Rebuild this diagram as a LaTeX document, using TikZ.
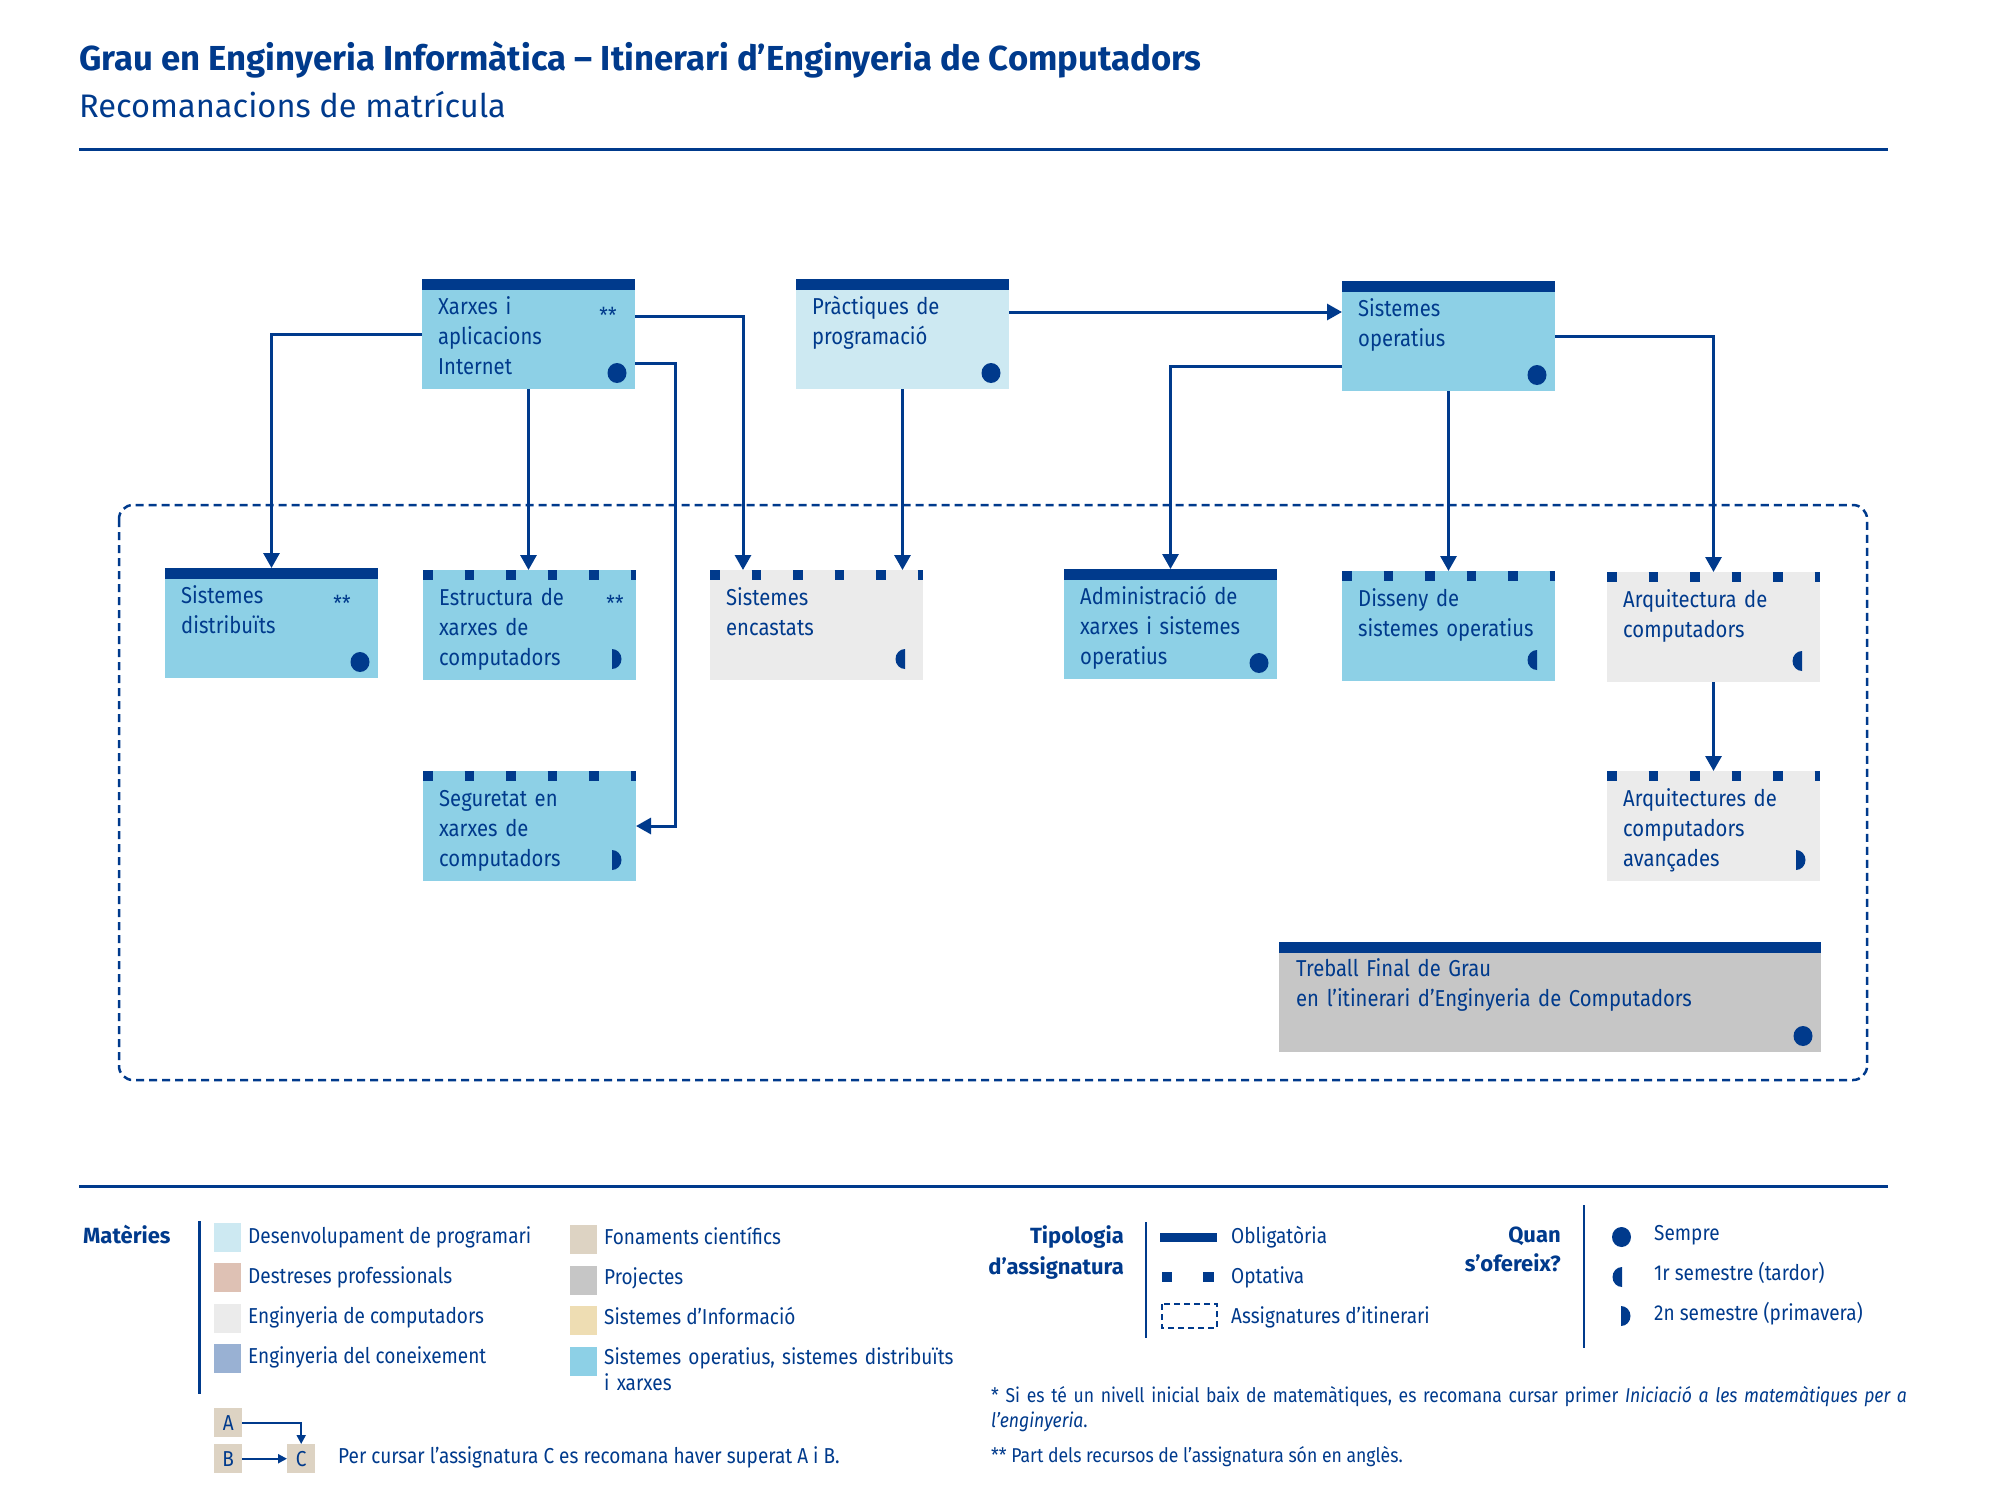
\documentclass[tikz,border=0pt]{standalone}
\usepackage{fontspec}
\setmainfont{Fira Sans}[FakeStretch=0.88]
\newfontfamily\headfont{Fira Sans}
\usetikzlibrary{arrows.meta,calc}
\definecolor{dkblue}{HTML}{003A8C}
\definecolor{sobl}{HTML}{8DD0E6}
\definecolor{dsbl}{HTML}{CDE9F2}
\definecolor{ecgr}{HTML}{EBEBEB}
\definecolor{prgr}{HTML}{C6C6C6}
\definecolor{dprs}{HTML}{DEC1B4}
\definecolor{econ}{HTML}{99B1D3}
\definecolor{fonc}{HTML}{DDD3C3}
\definecolor{sinf}{HTML}{EEDDB3}

% offering marks drawn in the lower right corner of a subject box
\newcommand\semprDot[1]{\fill[dkblue] ($(#1.south east)+(-18,-16)$) ellipse (9.5 and 10);}
\newcommand\tardorDot[1]{\fill[dkblue] ($(#1.south east)+(-18,-21)$) ++(0,10) arc[start angle=90,end angle=270,x radius=9.5,y radius=10] -- cycle;}
\newcommand\primavDot[1]{\fill[dkblue] ($(#1.south east)+(-24,-21)$) ++(0,-10) arc[start angle=-90,end angle=90,x radius=9.5,y radius=10] -- cycle;}

\begin{document}
\begin{tikzpicture}[x=1pt,y=-1pt,
  subj/.style={rectangle, draw=none, minimum width=213pt, minimum height=110pt,
    anchor=north west, inner sep=0pt, outer sep=0pt},
  oblig/.style={path picture={\fill[dkblue] (path picture bounding box.north west)
    rectangle ([yshift=-11pt]path picture bounding box.north east);}},
  optat/.style={path picture={\draw[dkblue, line width=10pt, dash pattern=on 9.5pt off 32pt]
    ([yshift=-5pt]path picture bounding box.north west) --
    ([yshift=-5pt]path picture bounding box.north east);}},
  subjtext/.style={anchor=base west, text width=195pt, align=left, inner sep=0pt,
    text=dkblue, font=\fontsize{23}{30}\selectfont},
  stars/.style={anchor=base, inner sep=0pt, text=dkblue, font=\fontsize{22}{24}\selectfont},
  conn/.style={draw=dkblue, line width=3pt, -{Triangle[width=16pt,length=15pt]}},
  smallconn/.style={draw=dkblue, line width=2pt, -{Triangle[width=9pt,length=9pt]}},
  legtext/.style={anchor=base west, inner sep=0pt, text=dkblue, font=\fontsize{21.6}{26}\selectfont},
  legbold/.style={inner sep=0pt, text=dkblue, font=\headfont\fontsize{22}{31}\selectfont\bfseries},
  swatch/.style={rectangle, minimum width=27pt, minimum height=29pt, anchor=north west, inner sep=0pt},
  abc/.style={rectangle, fill=fonc, minimum width=28pt, minimum height=29pt, anchor=north west,
    inner sep=0pt, text=dkblue, font=\fontsize{21.6}{26}\selectfont},
  rule/.style={draw=dkblue, line width=3pt}
]
\useasboundingbox (0,0) rectangle (2000,1500);

% ---------- heading ----------
\node[anchor=base west, inner sep=0pt, text=dkblue, font=\headfont\fontsize{34.7}{40}\selectfont\bfseries] (title)
  at (79,70) {Grau en Enginyeria Informàtica – Itinerari d’Enginyeria de Computadors};
\node[anchor=base west, inner sep=0pt, text=dkblue, font=\headfont\fontsize{32.6}{38}\selectfont] (subtitle)
  at (79,117) {Recomanacions de matrícula};
\draw[rule] (79,149) -- (1888,149);

% ---------- itinerary frame ----------
\draw[dkblue, line width=2.5pt, dash pattern=on 8pt off 5pt, rounded corners=14pt]
  (119,505) rectangle (1867,1080);

% ---------- subjects ----------
\node[subj, oblig, fill=sobl] (xi) at (422,279) {};
\node[subjtext] (xi-t) at ($(xi.north west)+(16,35)$) {Xarxes i\\aplicacions\\Internet};
\node[stars] (xi-s) at (608,323) {**};
\semprDot{xi}

\node[subj, oblig, fill=dsbl] (pp) at (796,279) {};
\node[subjtext] (pp-t) at ($(pp.north west)+(16,35)$) {Pràctiques de\\programació};
\semprDot{pp}

\node[subj, oblig, fill=sobl] (so) at (1342,281) {};
\node[subjtext] (so-t) at ($(so.north west)+(16,35)$) {Sistemes\\operatius};
\semprDot{so}

\node[subj, oblig, fill=sobl] (sd) at (165,568) {};
\node[subjtext] (sd-t) at ($(sd.north west)+(16,35)$) {Sistemes\\distribuïts};
\node[stars] (sd-s) at (342,611) {**};
\semprDot{sd}

\node[subj, optat, fill=sobl] (ex) at (423,570) {};
\node[subjtext] (ex-t) at ($(ex.north west)+(16,35)$) {Estructura de\\xarxes de\\computadors};
\node[stars] (ex-s) at (615,611) {**};
\primavDot{ex}

\node[subj, optat, fill=ecgr] (enc) at (710,570) {};
\node[subjtext] (enc-t) at ($(enc.north west)+(16,35)$) {Sistemes\\encastats};
\tardorDot{enc}

\node[subj, oblig, fill=sobl] (adm) at (1064,569) {};
\node[subjtext] (adm-t) at ($(adm.north west)+(16,35)$) {Administració de\\xarxes i sistemes\\operatius};
\semprDot{adm}

\node[subj, optat, fill=sobl] (dis) at (1342,571) {};
\node[subjtext] (dis-t) at ($(dis.north west)+(16,35)$) {Disseny de\\sistemes operatius};
\tardorDot{dis}

\node[subj, optat, fill=ecgr] (arq) at (1607,572) {};
\node[subjtext] (arq-t) at ($(arq.north west)+(16,35)$) {Arquitectura de\\computadors};
\tardorDot{arq}

\node[subj, optat, fill=sobl] (seg) at (423,771) {};
\node[subjtext] (seg-t) at ($(seg.north west)+(16,35)$) {Seguretat en\\xarxes de\\computadors};
\primavDot{seg}

\node[subj, optat, fill=ecgr] (ava) at (1607,771) {};
\node[subjtext] (ava-t) at ($(ava.north west)+(16,35)$) {Arquitectures de\\computadors\\avançades};
\primavDot{ava}

\node[subj, oblig, fill=prgr, minimum width=542pt] (tfg) at (1279,942) {};
\node[subjtext, text width=500pt] (tfg-t) at ($(tfg.north west)+(17,34)$)
  {Treball Final de Grau\\en l’itinerari d’Enginyeria de Computadors};
\semprDot{tfg}

% ---------- recommendations ----------
\draw[conn] (xi.west) -| (sd.north);
\draw[conn] (xi.south) -- (xi.south |- ex.north);
\draw[conn] ($(xi.north east)+(0,37)$) -| ($(enc.north west)+(33,0)$);
\coordinate (segbend) at ($(xi.north east)+(40,84)$);
\draw[conn] ($(xi.north east)+(0,84)$) -- (segbend) |- (seg.east);
\draw[conn] (pp.south) -- (pp.south |- enc.north);
\coordinate (ppout) at ($(pp.north east)+(0,33)$);
\draw[conn] (ppout) -- (ppout -| so.west);
\draw[conn] ($(so.north west)+(0,85)$) -| (adm.north);
\draw[conn] (so.south) -- (so.south |- dis.north);
\draw[conn] (so.east) -| (arq.north);
\draw[conn] (arq.south) -- (arq.south |- ava.north);

% ---------- legend ----------
\draw[rule] (79,1186) -- (1888,1186);

\node[legbold, anchor=base west] (mat) at (83,1243) {Matèries};
\draw[dkblue, line width=2.5pt] (199.5,1221) -- (199.5,1394);

\node[swatch, fill=dsbl] (sw1) at (214,1223) {};
\node[legtext] (lg1) at (248,1243) {Desenvolupament de programari};
\node[swatch, fill=dprs] (sw2) at (214,1263) {};
\node[legtext] (lg2) at (248,1283) {Destreses professionals};
\node[swatch, fill=ecgr] (sw3) at (214,1304) {};
\node[legtext] (lg3) at (248,1323) {Enginyeria de computadors};
\node[swatch, fill=econ] (sw4) at (214,1344) {};
\node[legtext] (lg4) at (248,1363) {Enginyeria del coneixement};

\node[swatch, fill=fonc] (sw5) at (570,1225) {};
\node[legtext] (lg5) at (604,1244) {Fonaments científics};
\node[swatch, fill=prgr] (sw6) at (570,1266) {};
\node[legtext] (lg6) at (604,1284) {Projectes};
\node[swatch, fill=sinf] (sw7) at (570,1306) {};
\node[legtext] (lg7) at (604,1324) {Sistemes d’Informació};
\node[swatch, fill=sobl] (sw8) at (570,1347) {};
\node[legtext, text width=430pt, align=left] (lg8) at (604,1364)
  {Sistemes operatius, sistemes distribuïts\\i xarxes};

\node[abc] (ka) at (214,1408) {A};
\node[abc] (kb) at (214,1444) {B};
\node[abc] (kc) at (287,1444) {C};
\draw[smallconn] (ka.east) -| (kc.north);
\draw[smallconn] (kb.east) -- (kc.west);
\node[legtext] (abc-t) at (338,1463) {Per cursar l’assignatura C es recomana haver superat A i B.};

% type of subject
\node[legbold, anchor=base east, text width=200pt, align=right] (tip) at (1124,1243)
  {Tipologia\\d’assignatura};
\draw[dkblue, line width=2.5pt] (1146,1222) -- (1146,1338);
\fill[dkblue] (1160,1233) rectangle (1217,1242);
\fill[dkblue] (1162,1272) rectangle (1172,1282);
\fill[dkblue] (1203,1272) rectangle (1214,1282);
\draw[dkblue, line width=2pt, dash pattern=on 6pt off 4pt] (1162,1304) rectangle (1217,1328);
\node[legtext] (tp1) at (1231,1243) {Obligatòria};
\node[legtext] (tp2) at (1231,1283) {Optativa};
\node[legtext] (tp3) at (1231,1323) {Assignatures d’itinerari};

% when it is offered
\node[legbold, anchor=base east, text width=200pt, align=right, font=\headfont\fontsize{22}{29}\selectfont\bfseries]
  (quan) at (1561,1242) {Quan\\s’ofereix?};
\draw[dkblue, line width=2.5pt] (1584,1205) -- (1584,1348);
\fill[dkblue] (1621.5,1237) ellipse (9.5 and 10);
\fill[dkblue] (1622,1287) arc[start angle=90,end angle=270,x radius=9.5,y radius=10] -- cycle;
\fill[dkblue] (1621,1306) arc[start angle=-90,end angle=90,x radius=9.5,y radius=10] -- cycle;
\node[legtext] (qn1) at (1654,1240) {Sempre};
\node[legtext] (qn2) at (1654,1280) {1r semestre (tardor)};
\node[legtext] (qn3) at (1654,1320) {2n semestre (primavera)};

% footnotes
\node[legtext, text width=990pt, align=left, font=\fontsize{20}{25}\selectfont] (fn1) at (991,1402)
  {* Si es té un nivell inicial baix de matemàtiques, es recomana cursar primer \textit{Iniciació a les matemàtiques per a}\\\textit{l’enginyeria}.};
\node[legtext, font=\fontsize{20}{25}\selectfont] (fn2) at (991,1462)
  {** Part dels recursos de l’assignatura són en anglès.};
\end{tikzpicture}
\end{document}
